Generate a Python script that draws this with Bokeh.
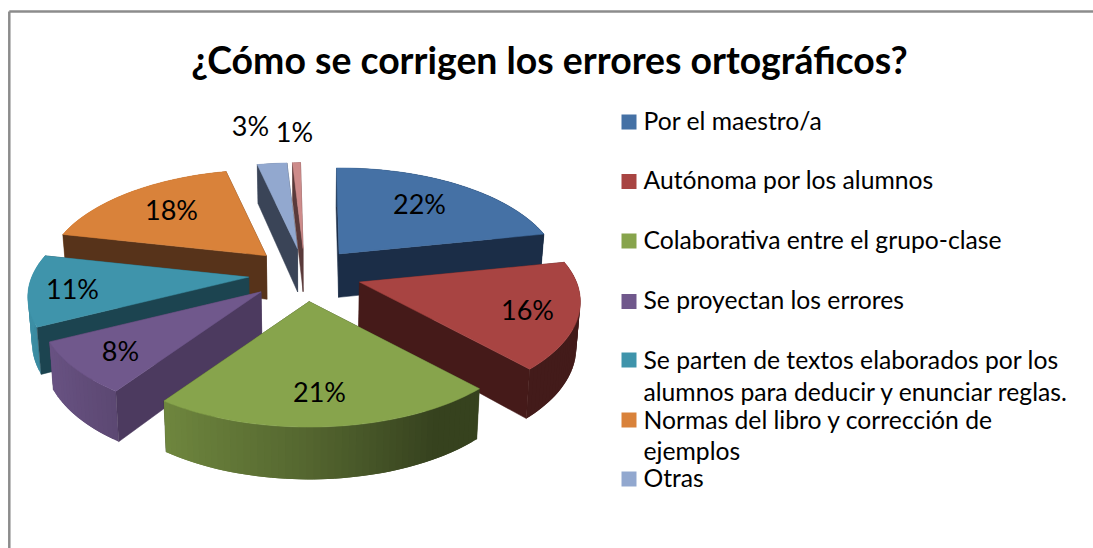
import numpy as np
from bokeh.core.properties import value
from bokeh.embed import file_html
from bokeh.models import Range1d
from bokeh.plotting import figure
from bokeh.resources import INLINE

title = "¿Cómo se corrigen los errores ortográficos?"
shares = [22.0, 16.4, 21.4, 8.0, 10.9, 18.0, 2.6, 0.7]
share_labels = ["22%", "16%", "21%", "8%", "11%", "18%", "3%", "1%"]
top_colors = ["#4571a5", "#a84442", "#87a44c", "#70588c", "#3f94ab", "#d9823a", "#92a8cf", "#cd8b8a"]
side_colors = ["#1b2d47", "#451a19", "#38421f", "#4c3a5f", "#1c4450", "#57331a", "#3a4457", "#5a3a3a"]
legend_names = ["Por el maestro/a", "Autónoma por los alumnos", "Colaborativa entre el grupo-clase",
                "Se proyectan los errores", "Se parten de textos elaborados por los",
                "Normas del libro y corrección de", "Otras"]
legend_extra = ["alumnos para deducir y enunciar reglas.", "ejemplos"]

label_x = [419, 527, 319, 120, 72, 171, 250, 294]
label_y = [203, 309, 391, 350, 288, 209, 125, 131]
legend_mid = [120, 179, 239, 299, 359, 419, 477]
legend_extra_mid = [391, 450]
legend_square = [121.5, 181, 240.5, 301, 359.5, 419.5, 478.5]

CX, CY, A, B, K, EXPL = 304.5, 273.3, 217.0, 102.0, 0.187, 0.26
START_DEG = -0.8
DRAW_ORDER = [6, 7, 5, 4, 3, 0, 1, 2]
FONT = value("Lato")

p = figure(width=1093, height=548, output_backend="svg", toolbar_location=None,
           x_range=Range1d(0, 1093), y_range=Range1d(548, 0), min_border=0,
           x_axis_type=None, y_axis_type=None, outline_line_color=None)
p.grid.visible = False


def plane(ax, ay, th):
    sx, cy_ = np.sin(th), np.cos(th)
    s = 1 / (1 + K * cy_)
    return ax + A * sx * s, ay - B * cy_ * s


def lower(x, y):
    return CX + (x - CX) * 0.985, y + 39 + 0.0515 * (y - 167)


def mix(hex_col, f):
    rgb = [int(hex_col[i:i + 2], 16) for i in (1, 3, 5)]
    return "#%02x%02x%02x" % tuple(int(round(c * f)) for c in rgb)


def shade(th):
    sn = np.sin(th)
    return 0.62 - 0.35 * sn if sn < 0 else max(0.40, 0.62 - 0.45 * sn)


edges = np.radians(START_DEG + np.concatenate([[0], np.cumsum(shares)]) * 3.6)

for i in DRAW_ORDER:
    t0, t1 = edges[i], edges[i + 1]
    mid = (t0 + t1) / 2
    s_e = 1 / (1 + K * EXPL * np.cos(mid))
    ax = CX + A * EXPL * np.sin(mid) * s_e
    ay = CY - B * EXPL * np.cos(mid) * s_e
    ths = np.linspace(t0, t1, max(6, int(np.degrees(t1 - t0) / 1.5)))
    xs, ys = plane(ax, ay, ths)
    bx, by = lower(xs, ys)
    abx, aby = lower(ax, ay)

    def radial(k):
        p.patch([ax, xs[k], bx[k], abx], [ay, ys[k], by[k], aby], fill_color=side_colors[i],
                line_color=side_colors[i], line_width=0.5)

    start_seen = np.sin(t0) < -0.05
    end_seen = np.sin(t1) > 0.05
    if not start_seen:
        radial(0)
    if not end_seen:
        radial(-1)
    # curved rim: overlapping shaded strips, so that no seams show
    for j in range(len(ths) - 1):
        c = mix(top_colors[i], shade((ths[j] + ths[j + 1]) / 2))
        e = min(j + 2, len(ths) - 1)
        p.patch([xs[j], xs[e], bx[e], bx[j]], [ys[j], ys[e], by[e], by[j]], fill_color=c, line_color=None)
    if start_seen:
        radial(0)
    if end_seen:
        radial(-1)
    p.patch(np.r_[ax, xs], np.r_[ay, ys], fill_color=top_colors[i], line_color=top_colors[i], line_width=0.5)

p.text(label_x, label_y, text=share_labels, text_font=FONT, text_font_size="27px", text_color="black",
       text_align="center", text_baseline="middle")

p.line([8.8, 8.8], [548, 11], line_color="#8c8c8c", line_width=2.5)
p.line([8.8, 1093], [11, 11], line_color="#8c8c8c", line_width=2.5)

p.text([549], [58.5], text=[title], text_font=FONT, text_font_style="bold", text_font_size="37.4px",
       text_color="black", text_align="center", text_baseline="middle")

p.scatter([628.5] * 7, legend_square, marker="square", size=15, fill_color=top_colors[:7], line_color=None)
p.text([643] * 7, legend_mid, text=legend_names, text_font=FONT, text_font_size="24.7px",
       text_color="black", text_align="left", text_baseline="middle")
p.text([643] * 2, legend_extra_mid, text=legend_extra, text_font=FONT, text_font_size="24.7px",
       text_color="black", text_align="left", text_baseline="middle")

open("out.html", "w").write(file_html(p, INLINE))
